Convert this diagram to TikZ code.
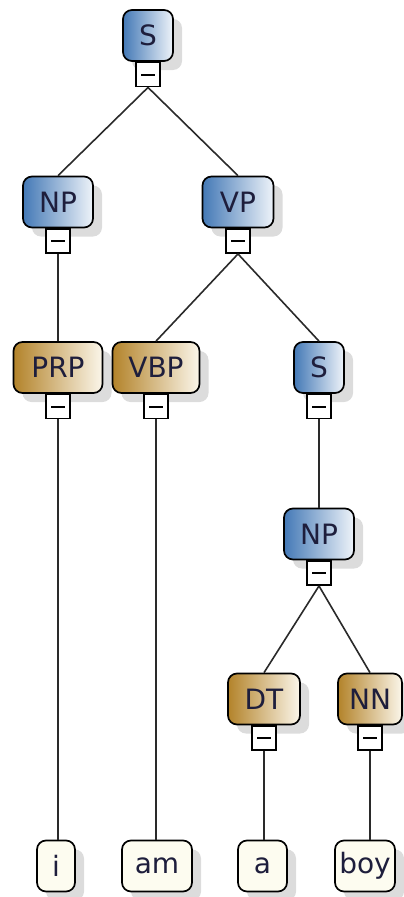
\documentclass[tikz,border=0pt]{standalone}
\usepackage{fontspec}
\setmainfont{DejaVu Sans}
\usetikzlibrary{shadows}
\definecolor{bluedark}{HTML}{4479B6}
\definecolor{bluelight}{HTML}{EEF3F9}
\definecolor{golddark}{HTML}{B3832A}
\definecolor{goldlight}{HTML}{FBF6EA}
\definecolor{cream}{HTML}{FDFCF0}
\definecolor{shade}{HTML}{DCDCDC}
\definecolor{ink}{HTML}{1E1E3C}
\definecolor{edge}{HTML}{2A2A2A}
\begin{document}
\begin{tikzpicture}[x=1pt,y=-1pt,
  box/.style={draw=black, line width=1.7pt, rounded corners=9pt,
    minimum height=51pt, inner sep=0pt, text=ink,
    font=\fontsize{28}{28}\selectfont,
    general shadow={fill=shade, shadow xshift=9pt, shadow yshift=-9pt}},
  phrase/.style={box, left color=bluedark, right color=bluelight},
  tag/.style={box, left color=golddark, right color=goldlight},
  word/.style={box, fill=cream},
  toggle/.style={draw=black, line width=1.6pt, fill=white, minimum size=24pt,
    inner sep=0pt, anchor=north,
    path picture={\draw[line width=2pt]
      ([xshift=-7pt]path picture bounding box.center) --
      ([xshift=7pt]path picture bounding box.center);}},
  link/.style={draw=edge, line width=1.6pt}]
\useasboundingbox (0,0) rectangle (404,897);

% tree nodes
\node[phrase, minimum width=50pt] (s1) at (148,35.5) {S};
\node[phrase, minimum width=70pt] (np1) at (58,202) {NP};
\node[phrase, minimum width=71pt] (vp) at (238,202) {VP};
\node[tag, minimum width=89pt] (prp) at (58,367.5) {PRP};
\node[tag, minimum width=87pt] (vbp) at (156,367.5) {VBP};
\node[phrase, minimum width=50pt] (s2) at (319,367.5) {S};
\node[phrase, minimum width=70pt] (np2) at (319,534) {NP};
\node[tag, minimum width=72pt] (dt) at (264,699) {DT};
\node[tag, minimum width=64pt] (nn) at (370,699) {NN};

% leaves
\node[word, minimum width=38pt] (wi) at (56,866) {i};
\node[word, minimum width=70pt] (wam) at (157,866) {am};
\node[word, minimum width=49pt] (wa) at (262.5,866) {a};
\node[word, minimum width=60pt] (wboy) at (365,866) {boy};

% collapse toggles
\node[toggle] (s1t) at (s1.south) {};
\node[toggle] (np1t) at (np1.south) {};
\node[toggle] (vpt) at (vp.south) {};
\node[toggle] (prpt) at (prp.south) {};
\node[toggle] (vbpt) at (vbp.south) {};
\node[toggle] (s2t) at (s2.south) {};
\node[toggle] (np2t) at (np2.south) {};
\node[toggle] (dtt) at (dt.south) {};
\node[toggle] (nnt) at (nn.south) {};

% branches
\draw[link] (s1t.south) -- (np1.north);
\draw[link] (s1t.south) -- (vp.north);
\draw[link] (np1t.south) -- (np1t.south |- prp.north);
\draw[link] (vpt.south) -- (vbp.north);
\draw[link] (vpt.south) -- (s2.north);
\draw[link] (prpt.south) -- (prpt.south |- wi.north);
\draw[link] (vbpt.south) -- (vbpt.south |- wam.north);
\draw[link] (s2t.south) -- (s2t.south |- np2.north);
\draw[link] (np2t.south) -- (dt.north);
\draw[link] (np2t.south) -- (nn.north);
\draw[link] (dtt.south) -- (dtt.south |- wa.north);
\draw[link] (nnt.south) -- (nnt.south |- wboy.north);
\end{tikzpicture}
\end{document}
